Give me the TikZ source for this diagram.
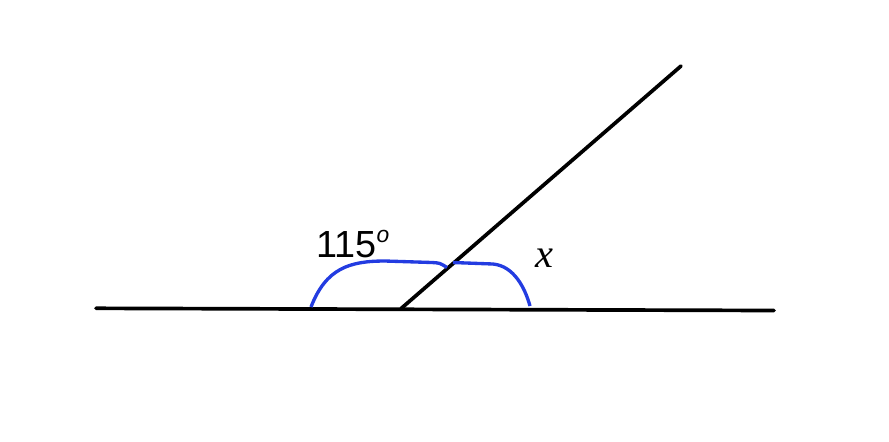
\documentclass[tikz,border=0pt]{standalone}
\usepackage{fontspec}
\setmainfont{Liberation Sans}
\newfontfamily\timesit{Liberation Serif}
\definecolor{arcblue}{RGB}{35,60,225}
\begin{document}
\begin{tikzpicture}[x=0.02cm,y=-0.02cm]
	\useasboundingbox (0,0) rectangle (889,441);
	\coordinate (L) at (96,308.3);
	\coordinate (R) at (774,310.5);
	\coordinate (O) at (401,308.6);
	\coordinate (A) at (681,66);
	\draw [line width=2.1,line cap=round] (L) to (R);
	\draw [line width=2.1,line cap=round] (O) to (A);
	\draw [line width=1.9,arcblue] (311,307) .. controls (326,268) and (350,261) .. (385,261) -- (432,262.5) .. controls (440,263) .. (447,267.5);
	\draw [line width=1.9,arcblue] (453,262.5) -- (493,264) .. controls (514,266) and (525,288) .. (530,306);
	\node [anchor=base west,inner sep=0,font=\fontsize{21.5}{24}\selectfont] (a) at (316,257.5) {115\raisebox{8.5pt}{\fontsize{13}{14}\selectfont\itshape o}};
	\node [anchor=base,inner sep=0,font=\fontsize{23}{26}\selectfont\timesit\itshape] (x) at (544,267) {x};
\end{tikzpicture}
\end{document}
